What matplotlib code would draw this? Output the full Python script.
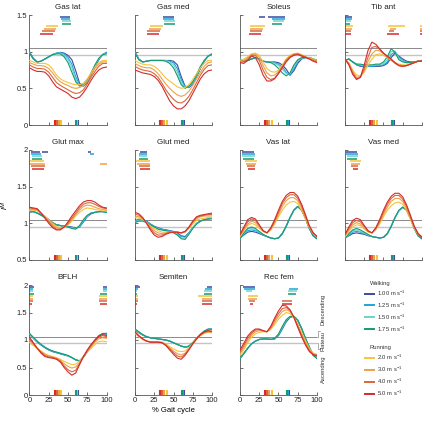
import numpy as np
import matplotlib.pyplot as plt

plt.rcParams['font.family'] = ['Liberation Sans', 'DejaVu Sans']
plt.rcParams['mathtext.fontset'] = 'custom'
plt.rcParams['mathtext.rm'] = 'Liberation Sans'
plt.rcParams['mathtext.it'] = 'Liberation Sans:italic'

# % gait cycle sample points
pct = np.arange(0, 101, 5)

speeds = ['1.00', '1.25', '1.50', '1.75', '2.0', '3.0', '4.0', '5.0']
colors = ['#3d4a9e', '#1ea3dc', '#6dd3c6', '#159a72',
          '#f5c43a', '#eda04b', '#d9663a', '#d42b2b']

# toe-off timing (% gait cycle), same order as speeds
toe_off = [63, 62, 61.5, 60.5, 41, 38, 35.5, 33]

# normalized fiber length curves, one row per speed
gas_lat = [
    [1.00, 0.91, 0.86, 0.87, 0.90, 0.93, 0.96, 0.98, 0.99, 0.98, 0.95, 0.89, 0.74, 0.57, 0.53, 0.58, 0.68, 0.79, 0.89, 0.96, 0.99],
    [0.99, 0.90, 0.86, 0.87, 0.90, 0.93, 0.96, 0.98, 0.99, 0.97, 0.92, 0.83, 0.66, 0.55, 0.53, 0.59, 0.69, 0.80, 0.90, 0.96, 0.99],
    [0.99, 0.90, 0.86, 0.87, 0.90, 0.93, 0.96, 0.98, 0.98, 0.95, 0.89, 0.78, 0.62, 0.54, 0.54, 0.60, 0.70, 0.81, 0.90, 0.96, 0.98],
    [0.98, 0.90, 0.86, 0.87, 0.90, 0.93, 0.96, 0.97, 0.97, 0.93, 0.85, 0.72, 0.59, 0.53, 0.55, 0.61, 0.71, 0.82, 0.91, 0.96, 0.97],
    [0.88, 0.86, 0.84, 0.84, 0.84, 0.82, 0.76, 0.68, 0.63, 0.60, 0.58, 0.56, 0.55, 0.55, 0.57, 0.63, 0.71, 0.79, 0.85, 0.88, 0.88],
    [0.85, 0.83, 0.81, 0.81, 0.80, 0.77, 0.71, 0.64, 0.59, 0.56, 0.54, 0.51, 0.50, 0.51, 0.54, 0.60, 0.69, 0.77, 0.83, 0.86, 0.86],
    [0.82, 0.79, 0.77, 0.77, 0.76, 0.72, 0.65, 0.58, 0.54, 0.51, 0.48, 0.45, 0.43, 0.44, 0.48, 0.56, 0.65, 0.73, 0.80, 0.84, 0.84],
    [0.78, 0.75, 0.73, 0.73, 0.72, 0.67, 0.59, 0.52, 0.49, 0.46, 0.43, 0.38, 0.36, 0.38, 0.44, 0.52, 0.61, 0.69, 0.75, 0.78, 0.79],
]
gas_med = [
    [1.00, 0.90, 0.86, 0.87, 0.88, 0.88, 0.88, 0.88, 0.88, 0.88, 0.87, 0.82, 0.66, 0.53, 0.51, 0.56, 0.66, 0.77, 0.87, 0.94, 0.97],
    [0.99, 0.89, 0.86, 0.87, 0.88, 0.88, 0.88, 0.88, 0.88, 0.87, 0.85, 0.77, 0.62, 0.52, 0.52, 0.57, 0.67, 0.78, 0.88, 0.94, 0.97],
    [0.99, 0.89, 0.86, 0.87, 0.88, 0.88, 0.88, 0.88, 0.88, 0.86, 0.82, 0.72, 0.58, 0.51, 0.52, 0.58, 0.68, 0.79, 0.88, 0.94, 0.96],
    [0.98, 0.89, 0.86, 0.87, 0.88, 0.88, 0.88, 0.88, 0.87, 0.84, 0.78, 0.67, 0.55, 0.50, 0.53, 0.59, 0.69, 0.80, 0.88, 0.94, 0.96],
    [0.88, 0.85, 0.83, 0.82, 0.82, 0.80, 0.76, 0.70, 0.64, 0.60, 0.56, 0.52, 0.50, 0.51, 0.55, 0.62, 0.70, 0.78, 0.84, 0.88, 0.88],
    [0.84, 0.81, 0.79, 0.78, 0.78, 0.75, 0.70, 0.63, 0.56, 0.50, 0.45, 0.41, 0.39, 0.41, 0.46, 0.54, 0.63, 0.72, 0.80, 0.85, 0.86],
    [0.80, 0.77, 0.75, 0.74, 0.73, 0.70, 0.65, 0.57, 0.48, 0.41, 0.35, 0.31, 0.30, 0.33, 0.39, 0.48, 0.58, 0.68, 0.76, 0.81, 0.82],
    [0.75, 0.73, 0.71, 0.70, 0.69, 0.66, 0.61, 0.53, 0.43, 0.33, 0.26, 0.22, 0.22, 0.26, 0.33, 0.43, 0.53, 0.63, 0.70, 0.74, 0.75],
]
soleus = [
    [0.90, 0.87, 0.88, 0.90, 0.92, 0.90, 0.87, 0.86, 0.86, 0.86, 0.85, 0.82, 0.76, 0.68, 0.74, 0.84, 0.90, 0.92, 0.92, 0.90, 0.88],
    [0.90, 0.87, 0.88, 0.90, 0.92, 0.90, 0.87, 0.86, 0.86, 0.85, 0.83, 0.79, 0.72, 0.68, 0.77, 0.86, 0.91, 0.92, 0.92, 0.90, 0.88],
    [0.90, 0.87, 0.88, 0.90, 0.92, 0.90, 0.87, 0.86, 0.86, 0.84, 0.81, 0.76, 0.70, 0.70, 0.80, 0.88, 0.91, 0.92, 0.92, 0.90, 0.88],
    [0.89, 0.87, 0.88, 0.90, 0.92, 0.90, 0.87, 0.86, 0.85, 0.82, 0.77, 0.71, 0.67, 0.71, 0.82, 0.89, 0.92, 0.92, 0.91, 0.90, 0.88],
    [0.88, 0.90, 0.93, 0.97, 0.98, 0.95, 0.86, 0.77, 0.73, 0.72, 0.75, 0.82, 0.90, 0.95, 0.97, 0.98, 0.96, 0.93, 0.91, 0.90, 0.88],
    [0.87, 0.88, 0.92, 0.96, 0.97, 0.92, 0.81, 0.71, 0.67, 0.68, 0.73, 0.81, 0.89, 0.94, 0.97, 0.97, 0.95, 0.93, 0.91, 0.89, 0.87],
    [0.86, 0.86, 0.90, 0.95, 0.95, 0.88, 0.75, 0.65, 0.62, 0.64, 0.71, 0.79, 0.88, 0.93, 0.96, 0.97, 0.95, 0.93, 0.90, 0.88, 0.86],
    [0.85, 0.84, 0.88, 0.94, 0.92, 0.82, 0.68, 0.60, 0.60, 0.63, 0.70, 0.78, 0.86, 0.92, 0.95, 0.96, 0.94, 0.92, 0.90, 0.87, 0.85],
]
tib_ant = [
    [0.88, 0.90, 0.86, 0.82, 0.80, 0.80, 0.80, 0.80, 0.80, 0.80, 0.81, 0.84, 0.92, 0.98, 0.94, 0.90, 0.87, 0.86, 0.86, 0.87, 0.88],
    [0.88, 0.90, 0.86, 0.82, 0.81, 0.80, 0.80, 0.80, 0.81, 0.81, 0.82, 0.86, 0.96, 1.00, 0.93, 0.88, 0.86, 0.85, 0.86, 0.87, 0.88],
    [0.88, 0.90, 0.86, 0.83, 0.82, 0.81, 0.81, 0.81, 0.82, 0.82, 0.84, 0.89, 1.00, 1.01, 0.91, 0.87, 0.85, 0.85, 0.86, 0.87, 0.88],
    [0.88, 0.90, 0.86, 0.83, 0.83, 0.82, 0.82, 0.82, 0.83, 0.83, 0.86, 0.93, 1.04, 0.99, 0.89, 0.86, 0.85, 0.85, 0.86, 0.87, 0.88],
    [0.89, 0.85, 0.75, 0.68, 0.67, 0.72, 0.82, 0.90, 0.96, 0.97, 0.95, 0.92, 0.88, 0.85, 0.83, 0.82, 0.82, 0.83, 0.85, 0.87, 0.88],
    [0.89, 0.84, 0.73, 0.65, 0.66, 0.74, 0.87, 0.97, 1.02, 1.01, 0.97, 0.92, 0.88, 0.85, 0.82, 0.81, 0.81, 0.83, 0.85, 0.87, 0.88],
    [0.90, 0.83, 0.71, 0.63, 0.65, 0.77, 0.93, 1.06, 1.07, 1.03, 0.98, 0.93, 0.89, 0.84, 0.81, 0.80, 0.81, 0.83, 0.85, 0.87, 0.88],
    [0.90, 0.82, 0.69, 0.62, 0.65, 0.82, 1.02, 1.13, 1.10, 1.04, 0.98, 0.94, 0.90, 0.85, 0.81, 0.80, 0.81, 0.83, 0.85, 0.87, 0.87],
]
glut_max = [
    [1.15, 1.16, 1.14, 1.12, 1.09, 1.05, 1.01, 0.98, 0.97, 0.96, 0.96, 0.95, 0.94, 0.95, 1.02, 1.09, 1.13, 1.15, 1.16, 1.16, 1.15],
    [1.16, 1.16, 1.14, 1.12, 1.09, 1.05, 1.01, 0.98, 0.97, 0.96, 0.95, 0.94, 0.93, 0.95, 1.03, 1.10, 1.14, 1.15, 1.16, 1.16, 1.15],
    [1.16, 1.16, 1.14, 1.11, 1.08, 1.04, 1.00, 0.98, 0.97, 0.96, 0.95, 0.94, 0.93, 0.96, 1.04, 1.10, 1.14, 1.15, 1.16, 1.16, 1.15],
    [1.17, 1.16, 1.14, 1.11, 1.08, 1.04, 1.00, 0.98, 0.97, 0.96, 0.95, 0.93, 0.92, 0.97, 1.05, 1.11, 1.14, 1.15, 1.16, 1.16, 1.15],
    [1.18, 1.18, 1.17, 1.14, 1.10, 1.05, 1.00, 0.96, 0.94, 0.95, 0.98, 1.03, 1.10, 1.15, 1.19, 1.21, 1.20, 1.19, 1.18, 1.17, 1.17],
    [1.19, 1.19, 1.18, 1.14, 1.09, 1.03, 0.98, 0.94, 0.93, 0.95, 0.99, 1.05, 1.12, 1.18, 1.23, 1.25, 1.24, 1.22, 1.20, 1.19, 1.18],
    [1.21, 1.20, 1.19, 1.14, 1.08, 1.02, 0.96, 0.92, 0.92, 0.95, 1.00, 1.07, 1.14, 1.21, 1.26, 1.28, 1.28, 1.26, 1.23, 1.21, 1.20],
    [1.22, 1.21, 1.20, 1.14, 1.07, 1.00, 0.94, 0.91, 0.91, 0.95, 1.02, 1.10, 1.17, 1.24, 1.29, 1.31, 1.31, 1.29, 1.25, 1.22, 1.21],
]
glut_med = [
    [1.04, 1.05, 1.05, 1.03, 0.99, 0.96, 0.94, 0.92, 0.91, 0.90, 0.89, 0.87, 0.83, 0.82, 0.87, 0.94, 1.00, 1.03, 1.05, 1.06, 1.07],
    [1.03, 1.05, 1.05, 1.03, 0.99, 0.96, 0.93, 0.92, 0.91, 0.90, 0.88, 0.86, 0.82, 0.81, 0.87, 0.94, 1.00, 1.03, 1.05, 1.06, 1.07],
    [1.02, 1.04, 1.04, 1.02, 0.98, 0.95, 0.93, 0.91, 0.90, 0.89, 0.88, 0.85, 0.80, 0.80, 0.86, 0.94, 1.00, 1.03, 1.05, 1.06, 1.07],
    [1.01, 1.03, 1.03, 1.01, 0.98, 0.95, 0.92, 0.91, 0.90, 0.89, 0.87, 0.84, 0.79, 0.78, 0.85, 0.93, 0.99, 1.03, 1.05, 1.06, 1.06],
    [1.08, 1.07, 1.05, 1.01, 0.96, 0.93, 0.90, 0.88, 0.88, 0.88, 0.88, 0.88, 0.87, 0.88, 0.93, 0.99, 1.04, 1.06, 1.07, 1.08, 1.08],
    [1.10, 1.09, 1.06, 1.01, 0.95, 0.90, 0.87, 0.86, 0.87, 0.88, 0.88, 0.88, 0.87, 0.88, 0.94, 1.01, 1.06, 1.09, 1.10, 1.10, 1.10],
    [1.13, 1.11, 1.07, 1.00, 0.93, 0.87, 0.84, 0.84, 0.86, 0.88, 0.88, 0.88, 0.87, 0.89, 0.94, 1.02, 1.08, 1.10, 1.11, 1.12, 1.12],
    [1.15, 1.13, 1.08, 1.00, 0.91, 0.84, 0.81, 0.82, 0.85, 0.87, 0.88, 0.88, 0.87, 0.89, 0.95, 1.03, 1.09, 1.11, 1.12, 1.13, 1.14],
]
vas_lat = [
    [0.80, 0.84, 0.88, 0.89, 0.88, 0.86, 0.84, 0.82, 0.80, 0.79, 0.80, 0.86, 0.96, 1.08, 1.18, 1.23, 1.18, 1.07, 0.93, 0.83, 0.79],
    [0.80, 0.85, 0.90, 0.91, 0.90, 0.87, 0.84, 0.82, 0.80, 0.79, 0.80, 0.86, 0.96, 1.08, 1.18, 1.23, 1.18, 1.07, 0.93, 0.83, 0.79],
    [0.79, 0.86, 0.92, 0.93, 0.91, 0.88, 0.85, 0.82, 0.80, 0.79, 0.80, 0.86, 0.96, 1.08, 1.18, 1.23, 1.18, 1.07, 0.93, 0.83, 0.79],
    [0.79, 0.87, 0.93, 0.95, 0.93, 0.89, 0.85, 0.82, 0.80, 0.79, 0.80, 0.86, 0.96, 1.08, 1.18, 1.23, 1.18, 1.07, 0.93, 0.83, 0.79],
    [0.82, 0.90, 0.97, 1.00, 0.98, 0.93, 0.89, 0.87, 0.91, 0.99, 1.09, 1.18, 1.25, 1.29, 1.30, 1.27, 1.18, 1.06, 0.94, 0.86, 0.82],
    [0.83, 0.91, 0.99, 1.03, 1.01, 0.95, 0.89, 0.87, 0.92, 1.01, 1.12, 1.23, 1.31, 1.35, 1.35, 1.31, 1.21, 1.08, 0.95, 0.86, 0.82],
    [0.84, 0.93, 1.02, 1.06, 1.04, 0.97, 0.90, 0.87, 0.93, 1.03, 1.15, 1.27, 1.35, 1.39, 1.39, 1.34, 1.24, 1.10, 0.96, 0.87, 0.82],
    [0.85, 0.95, 1.05, 1.08, 1.06, 0.98, 0.90, 0.87, 0.94, 1.05, 1.18, 1.30, 1.38, 1.42, 1.42, 1.37, 1.26, 1.12, 0.97, 0.87, 0.82],
]
vas_med = [
    [0.80, 0.83, 0.86, 0.87, 0.86, 0.85, 0.83, 0.82, 0.81, 0.80, 0.81, 0.86, 0.96, 1.08, 1.17, 1.22, 1.18, 1.07, 0.93, 0.83, 0.79],
    [0.80, 0.84, 0.88, 0.89, 0.88, 0.86, 0.84, 0.82, 0.81, 0.80, 0.81, 0.86, 0.96, 1.08, 1.17, 1.22, 1.18, 1.07, 0.93, 0.83, 0.79],
    [0.79, 0.85, 0.90, 0.91, 0.89, 0.87, 0.84, 0.82, 0.81, 0.80, 0.81, 0.86, 0.96, 1.08, 1.17, 1.22, 1.18, 1.07, 0.93, 0.83, 0.79],
    [0.79, 0.86, 0.91, 0.93, 0.91, 0.88, 0.85, 0.82, 0.81, 0.80, 0.81, 0.86, 0.96, 1.08, 1.18, 1.22, 1.18, 1.07, 0.93, 0.83, 0.79],
    [0.82, 0.89, 0.95, 0.98, 0.97, 0.92, 0.88, 0.87, 0.91, 0.99, 1.09, 1.18, 1.24, 1.28, 1.29, 1.26, 1.17, 1.05, 0.93, 0.85, 0.81],
    [0.83, 0.91, 0.98, 1.01, 0.99, 0.94, 0.89, 0.87, 0.92, 1.01, 1.12, 1.22, 1.30, 1.34, 1.34, 1.30, 1.20, 1.07, 0.94, 0.86, 0.81],
    [0.84, 0.93, 1.01, 1.04, 1.02, 0.96, 0.89, 0.87, 0.93, 1.03, 1.15, 1.26, 1.34, 1.38, 1.38, 1.33, 1.23, 1.09, 0.95, 0.86, 0.81],
    [0.85, 0.95, 1.04, 1.07, 1.05, 0.97, 0.90, 0.87, 0.94, 1.05, 1.18, 1.29, 1.37, 1.41, 1.41, 1.36, 1.25, 1.11, 0.96, 0.86, 0.81],
]
bflh = [
    [1.10, 1.03, 0.96, 0.91, 0.86, 0.82, 0.79, 0.77, 0.75, 0.73, 0.71, 0.68, 0.64, 0.62, 0.69, 0.79, 0.89, 0.99, 1.07, 1.11, 1.11],
    [1.11, 1.04, 0.97, 0.91, 0.86, 0.82, 0.79, 0.77, 0.75, 0.73, 0.71, 0.68, 0.64, 0.62, 0.69, 0.79, 0.89, 0.99, 1.07, 1.11, 1.11],
    [1.11, 1.04, 0.97, 0.92, 0.87, 0.83, 0.80, 0.78, 0.76, 0.74, 0.71, 0.68, 0.64, 0.62, 0.69, 0.79, 0.89, 0.99, 1.07, 1.11, 1.12],
    [1.12, 1.05, 0.98, 0.92, 0.87, 0.83, 0.80, 0.78, 0.76, 0.74, 0.72, 0.68, 0.64, 0.62, 0.69, 0.79, 0.90, 1.00, 1.08, 1.12, 1.12],
    [0.95, 0.90, 0.85, 0.80, 0.75, 0.72, 0.70, 0.68, 0.65, 0.61, 0.58, 0.55, 0.56, 0.62, 0.70, 0.78, 0.85, 0.92, 0.97, 0.98, 0.97],
    [0.99, 0.92, 0.85, 0.79, 0.74, 0.71, 0.69, 0.67, 0.63, 0.57, 0.52, 0.49, 0.51, 0.59, 0.69, 0.79, 0.88, 0.96, 1.02, 1.04, 1.03],
    [1.02, 0.94, 0.85, 0.78, 0.72, 0.69, 0.68, 0.66, 0.62, 0.53, 0.46, 0.42, 0.45, 0.57, 0.69, 0.80, 0.90, 0.99, 1.05, 1.08, 1.06],
    [1.05, 0.95, 0.85, 0.76, 0.70, 0.68, 0.67, 0.65, 0.60, 0.50, 0.42, 0.36, 0.40, 0.55, 0.70, 0.82, 0.92, 1.00, 1.07, 1.10, 1.08],
]
semiten = [
    [1.18, 1.13, 1.09, 1.06, 1.04, 1.03, 1.02, 1.01, 1.00, 0.98, 0.95, 0.92, 0.89, 0.87, 0.89, 0.95, 1.03, 1.10, 1.16, 1.19, 1.19],
    [1.19, 1.14, 1.09, 1.06, 1.04, 1.03, 1.02, 1.01, 1.00, 0.98, 0.95, 0.92, 0.89, 0.87, 0.89, 0.95, 1.03, 1.10, 1.16, 1.19, 1.20],
    [1.19, 1.14, 1.10, 1.06, 1.04, 1.03, 1.02, 1.01, 1.00, 0.98, 0.95, 0.92, 0.89, 0.87, 0.88, 0.95, 1.03, 1.10, 1.16, 1.20, 1.20],
    [1.20, 1.15, 1.10, 1.06, 1.04, 1.03, 1.02, 1.01, 1.00, 0.98, 0.95, 0.92, 0.89, 0.87, 0.88, 0.95, 1.03, 1.10, 1.16, 1.20, 1.20],
    [1.12, 1.06, 1.01, 0.98, 0.97, 0.97, 0.97, 0.96, 0.93, 0.88, 0.84, 0.80, 0.79, 0.80, 0.86, 0.94, 1.02, 1.08, 1.12, 1.14, 1.13],
    [1.13, 1.07, 1.01, 0.98, 0.97, 0.97, 0.97, 0.96, 0.92, 0.86, 0.80, 0.75, 0.73, 0.76, 0.84, 0.93, 1.02, 1.09, 1.13, 1.15, 1.14],
    [1.14, 1.07, 1.02, 0.98, 0.96, 0.96, 0.96, 0.95, 0.91, 0.84, 0.77, 0.71, 0.69, 0.74, 0.83, 0.93, 1.02, 1.09, 1.14, 1.16, 1.15],
    [1.15, 1.08, 1.02, 0.98, 0.96, 0.96, 0.96, 0.95, 0.90, 0.82, 0.74, 0.67, 0.65, 0.72, 0.82, 0.93, 1.02, 1.10, 1.15, 1.17, 1.16],
]
rec_fem = [
    [0.68, 0.76, 0.85, 0.93, 0.98, 1.01, 1.02, 1.02, 1.01, 1.02, 1.08, 1.20, 1.33, 1.41, 1.43, 1.36, 1.21, 1.03, 0.87, 0.73, 0.68],
    [0.67, 0.75, 0.85, 0.93, 0.98, 1.01, 1.02, 1.02, 1.01, 1.02, 1.09, 1.22, 1.35, 1.42, 1.43, 1.36, 1.21, 1.03, 0.87, 0.73, 0.67],
    [0.67, 0.75, 0.85, 0.93, 0.98, 1.01, 1.02, 1.02, 1.01, 1.03, 1.10, 1.23, 1.36, 1.42, 1.43, 1.36, 1.21, 1.03, 0.87, 0.72, 0.67],
    [0.66, 0.75, 0.85, 0.93, 0.98, 1.01, 1.02, 1.02, 1.01, 1.03, 1.11, 1.25, 1.37, 1.43, 1.43, 1.36, 1.21, 1.03, 0.87, 0.72, 0.66],
    [0.72, 0.82, 0.95, 1.05, 1.11, 1.14, 1.15, 1.15, 1.19, 1.28, 1.38, 1.45, 1.50, 1.48, 1.41, 1.29, 1.14, 0.99, 0.85, 0.76, 0.74],
    [0.75, 0.86, 0.99, 1.09, 1.15, 1.17, 1.16, 1.15, 1.21, 1.32, 1.43, 1.52, 1.55, 1.52, 1.42, 1.27, 1.11, 0.96, 0.83, 0.75, 0.73],
    [0.78, 0.90, 1.03, 1.12, 1.18, 1.19, 1.17, 1.15, 1.23, 1.36, 1.48, 1.57, 1.59, 1.54, 1.42, 1.25, 1.08, 0.93, 0.81, 0.74, 0.72],
    [0.82, 0.94, 1.07, 1.15, 1.20, 1.20, 1.17, 1.15, 1.25, 1.40, 1.53, 1.63, 1.62, 1.55, 1.41, 1.23, 1.06, 0.91, 0.79, 0.73, 0.71],
]

# timing bars at the top of each panel: (start, end) in % gait cycle per speed
gas_lat_bars = [[(40, 52)], [(41, 53)], [(42, 54)], [(42, 54)], [(21, 37)], [(19, 35)], [(16, 33)], [(13, 31)]]
gas_med_bars = [[(36, 50)], [(37, 51)], [(38, 52)], [(38, 52)], [(19, 36)], [(18, 34)], [(16, 33)], [(15, 31)]]
soleus_bars = [[(25, 32), (37, 59)], [(41, 58)], [(43, 57)], [(42, 55)], [(13, 32)], [(13, 30)], [(13, 29)], [(12, 27)]]
tib_ant_bars = [[(0, 9)], [(0, 9)], [(0, 8)], [(0, 7)], [(0, 10), (56, 78), (98, 100)],
                [(0, 9), (59, 66), (98, 100)], [(0, 8), (57, 63), (98, 100)], [(0, 8), (54, 70), (98, 100)]]
glut_max_bars = [[(2, 14), (16, 24), (76, 80)], [(2, 15), (78, 84)], [(3, 16)], [(3, 16)],
                 [(0, 19)], [(0, 20), (92, 100)], [(2, 20)], [(3, 19)]]
glut_med_bars = [[(6, 15)], [(5, 16)], [(5, 16)], [(5, 17)], [(1, 19)], [(3, 20)], [(5, 20)], [(6, 19)]]
vas_lat_bars = [[(2, 18)], [(2, 19)], [(3, 20)], [(4, 18)], [(7, 22)], [(8, 21)], [(9, 20)], [(10, 19)]]
vas_med_bars = [[(1, 15)], [(1, 17)], [(3, 17)], [(3, 15)], [(6, 21)], [(8, 20)], [(8, 17)], [(10, 17)]]
bflh_bars = [[(0, 6), (96, 100)], [(0, 5), (96, 100)], [(0, 4), (95, 100)], [(0, 6), (91, 100)],
             [(0, 5), (90, 100)], [(0, 4), (90, 100)], [(0, 4), (90, 100)], [(0, 3), (91, 100)]]
semiten_bars = [[(0, 6), (93, 100)], [(0, 4), (91, 100)], [(0, 3), (90, 100)], [(0, 3), (89, 100)],
                [(0, 4), (82, 100)], [(0, 4), (87, 100)], [(0, 4), (87, 100)], [(0, 3), (87, 100)]]
rec_fem_bars = [[(4, 20)], [(5, 20), (63, 75)], [(8, 16), (62, 74)], [(62, 73)],
                [(10, 24)], [(11, 22)], [(12, 20), (55, 68)], [(13, 17), (54, 67)]]

# name, curves, bars, row, col
panels = [
    ('Gas lat', gas_lat, gas_lat_bars, 0, 0),
    ('Gas med', gas_med, gas_med_bars, 0, 1),
    ('Soleus', soleus, soleus_bars, 0, 2),
    ('Tib ant', tib_ant, tib_ant_bars, 0, 3),
    ('Glut max', glut_max, glut_max_bars, 1, 0),
    ('Glut med', glut_med, glut_med_bars, 1, 1),
    ('Vas lat', vas_lat, vas_lat_bars, 1, 2),
    ('Vas med', vas_med, vas_med_bars, 1, 3),
    ('BFLH', bflh, bflh_bars, 2, 0),
    ('Semiten', semiten, semiten_bars, 2, 1),
    ('Rec fem', rec_fem, rec_fem_bars, 2, 2),
]
row_ylim = [(0, 1.5), (0.5, 2), (0, 2)]
row_yticks = [[0, 0.5, 1, 1.5], [0.5, 1, 1.5, 2], [0, 0.5, 1, 1.5, 2]]

W, H = 427, 421
col_x = [29.5, 135, 240, 345]
row_top = [15, 150, 285]
aw, ah = 77, 110
spine_c = '#555555'

fig = plt.figure(figsize=(W / 100, H / 100), dpi=100)

for name, curves, bars, r, c in panels:
    ax = fig.add_axes([col_x[c] / W, 1 - (row_top[r] + ah) / H, aw / W, ah / H])
    ax.axhline(1.05, color='#8a8a8a', lw=0.7, zorder=1)
    ax.axhline(0.95, color='#c4c4c4', lw=1.0, zorder=1)
    for i in range(8):
        ax.plot(pct, curves[i], color=colors[i], lw=0.8, zorder=2 + i)
    xt = ax.get_xaxis_transform()
    for i in range(8):
        y = 0.985 - i * 0.022
        for s, e in bars[i]:
            ax.hlines(y, s, e, colors=colors[i], lw=1.1, transform=xt, clip_on=False)
    for i in range(8):
        ax.vlines(toe_off[i], 0, 0.045, colors=colors[i], lw=1.5, transform=xt)

    ax.set_xlim(0, 100)
    ax.set_ylim(*row_ylim[r])
    ax.set_xticks([0, 25, 50, 75, 100])
    ax.set_yticks(row_yticks[r])
    ax.set_yticklabels([f'{v:g}' for v in row_yticks[r]])
    ax.tick_params(direction='in', length=2, width=0.6, colors=spine_c,
                   labelsize=5.5, labelcolor='#222222', pad=1.5)
    if c != 0:
        ax.set_yticklabels([])
    if r != 2:
        ax.set_xticklabels([])
    for side in ['top', 'right']:
        ax.spines[side].set_visible(False)
    for side in ['left', 'bottom']:
        ax.spines[side].set_color(spine_c)
        ax.spines[side].set_linewidth(0.6)
    ax.set_title(name, fontsize=5.8, pad=4, color='#222222')

    if name == 'Glut max':
        ax.set_ylabel(r'$\tilde{l}^{M}$', fontsize=6, labelpad=4)
    if name == 'Semiten':
        ax.set_xlabel('% Gait cycle', fontsize=5.5, labelpad=2)
    if name == 'Rec fem':
        ax.plot([100, 101.5, 101.5, 104], [1.05, 1.05, 1.17, 1.17], color='#8a8a8a', lw=0.5, clip_on=False)
        ax.plot([100, 101.5, 101.5, 104], [0.95, 0.95, 0.84, 0.84], color='#8a8a8a', lw=0.5, clip_on=False)
        yt = ax.get_yaxis_transform()
        for label, yv in [('Ascending', 0.47), ('Plateau', 0.98), ('Descending', 1.55)]:
            ax.text(1.08, yv, label, transform=yt, rotation=90, fontsize=4.2,
                    ha='center', va='center', color='#333333')

# legend
def fx(px):
    return px / W

def fy(py):
    return 1 - py / H

fig.text(fx(380), fy(283), 'Walking', fontsize=4.2, ha='center', va='center', color='#333333')
fig.text(fx(380), fy(348), 'Running', fontsize=4.2, ha='center', va='center', color='#333333')
leg_y = [293.5, 305, 317, 329, 357.5, 369.5, 381.5, 393.5]
for i in range(8):
    fig.add_artist(plt.Line2D([fx(365), fx(374)], [fy(leg_y[i])] * 2, color=colors[i], lw=1.4))
    fig.text(fx(377), fy(leg_y[i]), speeds[i] + r' m s$^{-1}$', fontsize=4.2,
             ha='left', va='center', color='#333333')

fig.savefig('out.png', dpi=100)
